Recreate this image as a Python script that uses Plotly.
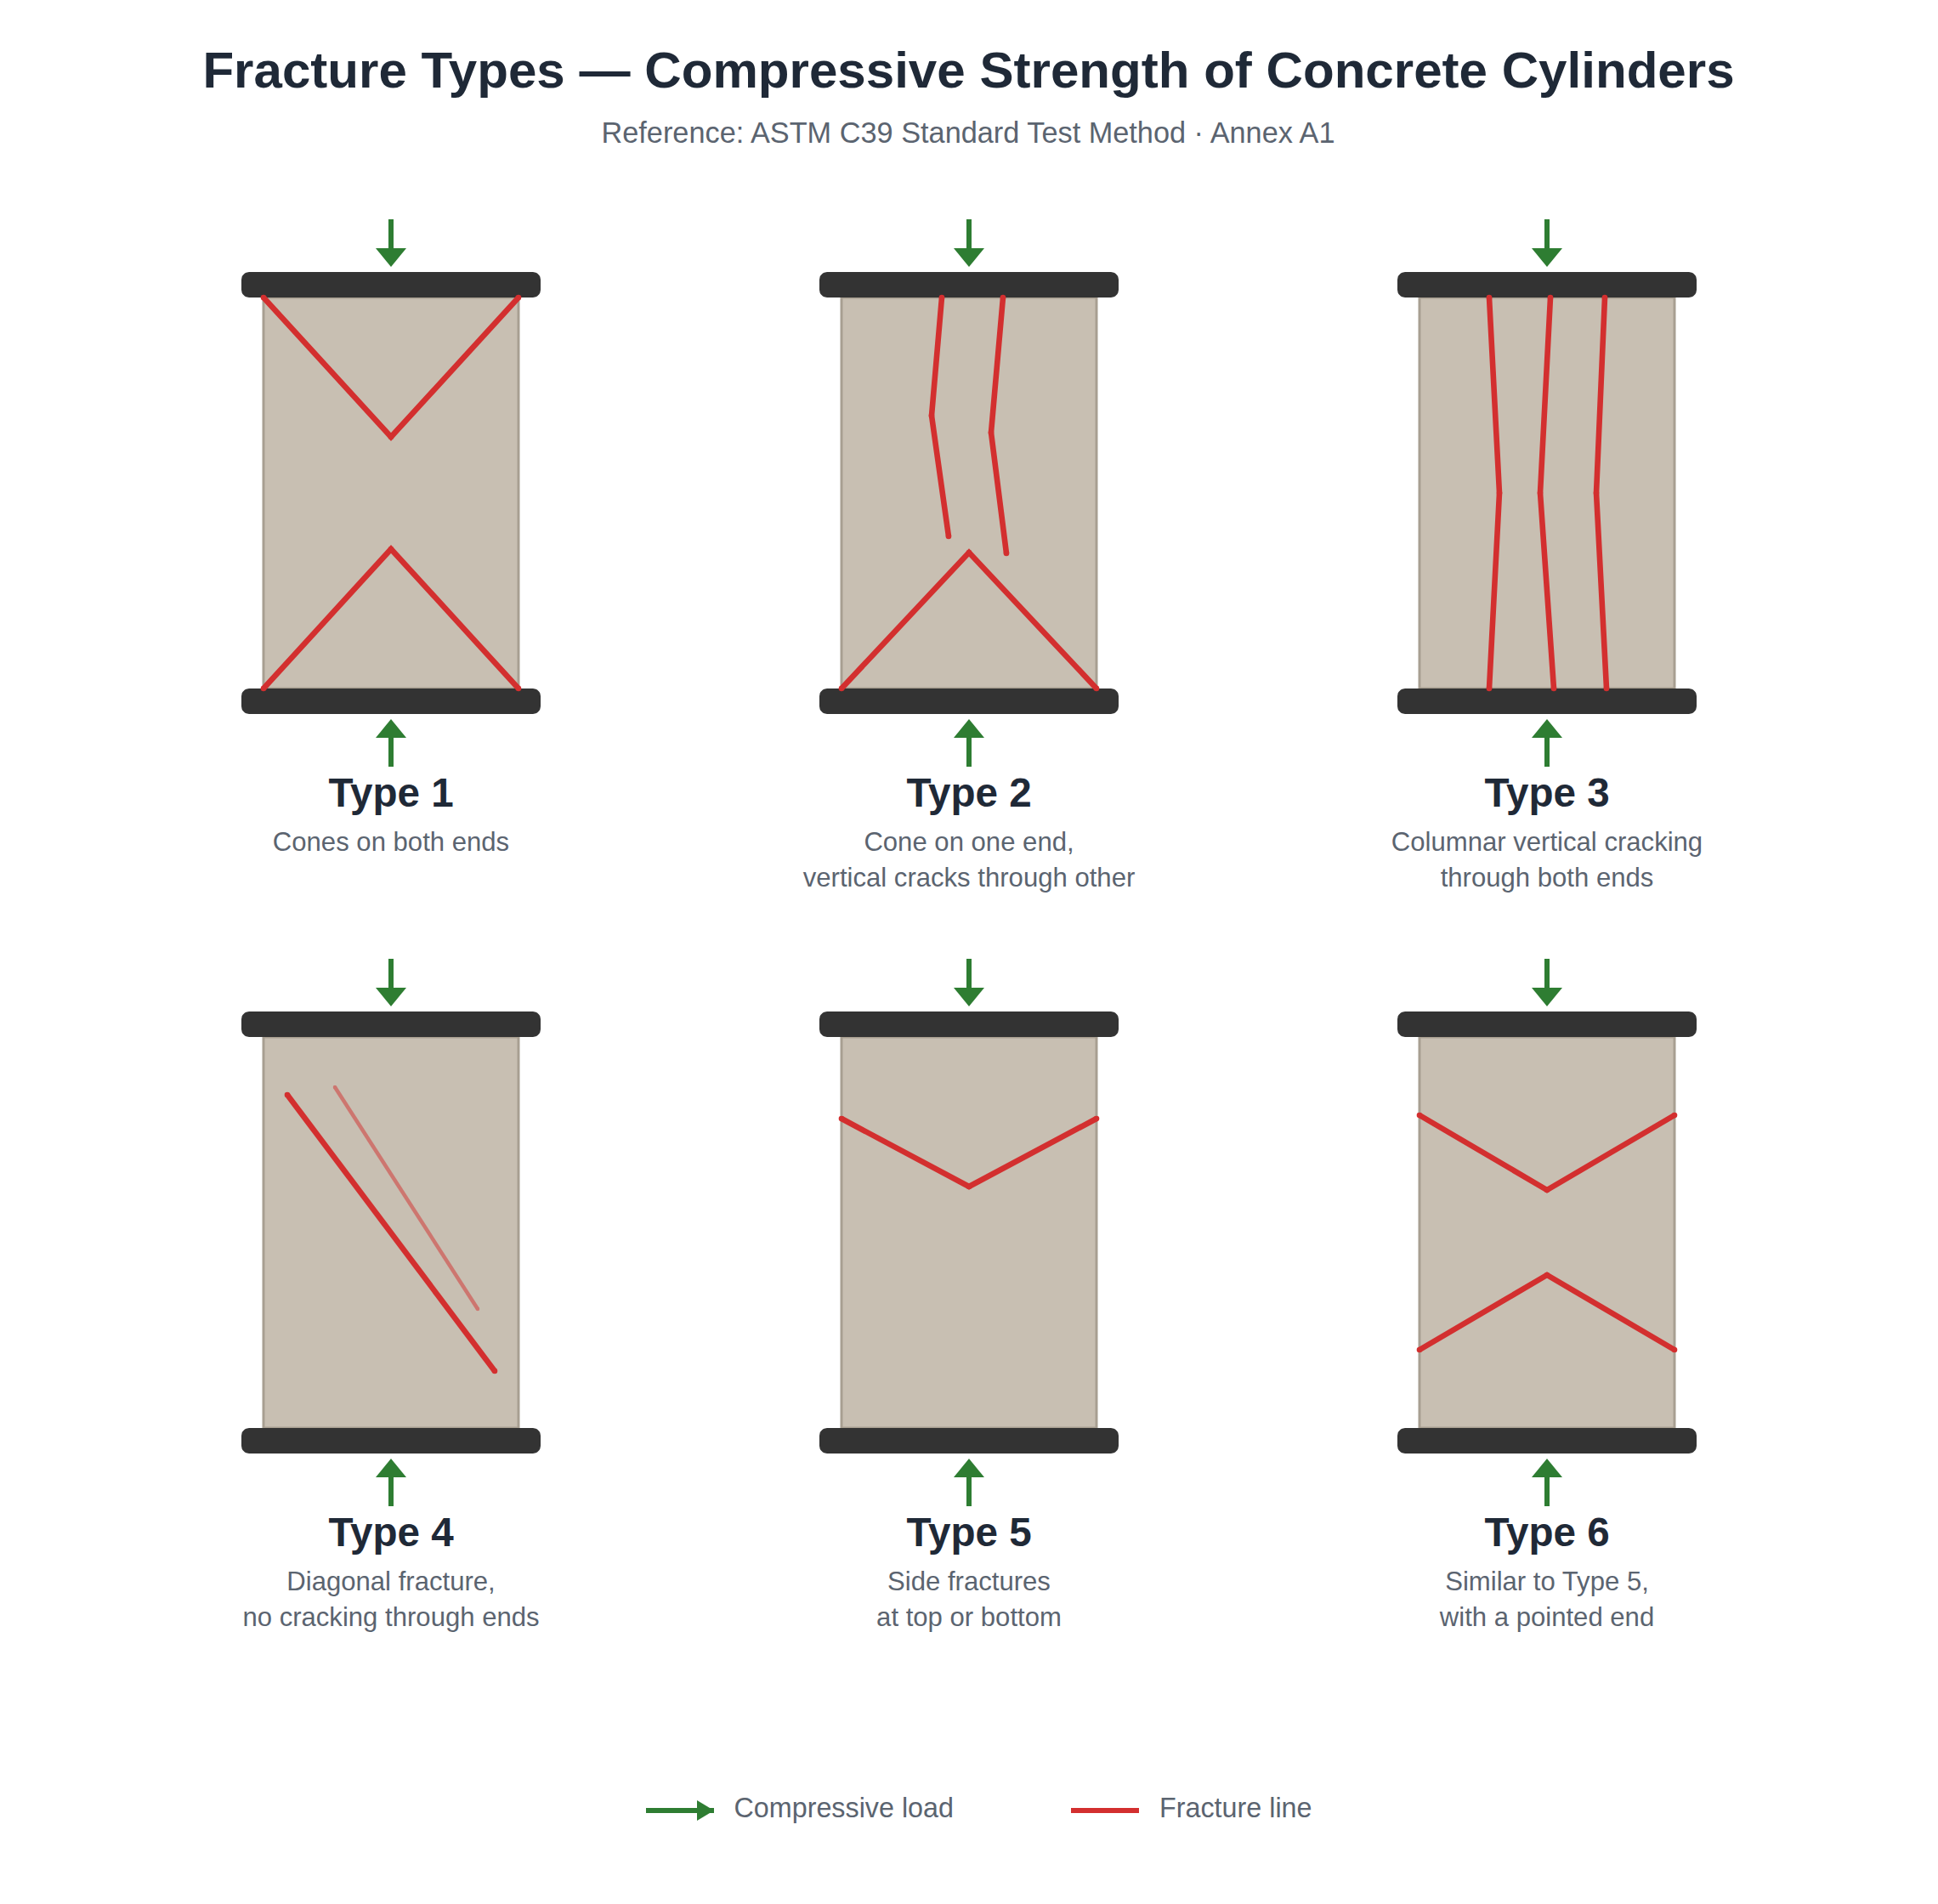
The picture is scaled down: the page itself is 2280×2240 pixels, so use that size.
import plotly.graph_objects as go
import math

TITLE = "Fracture Types — Compressive Strength of Concrete Cylinders"
SUBTITLE = "Reference: ASTM C39 Standard Test Method · Annex A1"
TYPE_LABELS = ["Type 1", "Type 2", "Type 3", "Type 4", "Type 5", "Type 6"]
TYPE_NOTES = [
    ["Cones on both ends"],
    ["Cone on one end,", "vertical cracks through other"],
    ["Columnar vertical cracking", "through both ends"],
    ["Diagonal fracture,", "no cracking through ends"],
    ["Side fractures", "at top or bottom"],
    ["Similar to Type 5,", "with a pointed end"],
]
LEGEND_LABELS = ["Compressive load", "Fracture line"]

# fracture polylines: offset from cylinder axis, depth below cylinder top
T1_X = [[-150, 0, 150], [-150, 0, 150]]
T1_Y = [[0, 164, 0], [460, 296, 460]]
T2_X = [[-32, -44, -24], [40, 26, 44], [-150, 0, 150]]
T2_Y = [[0, 139, 281], [0, 159, 301], [460, 300, 460]]
T3_X = [[-68, -56, -68], [4, -8, 8], [68, 58, 70]]
T3_Y = [[0, 230, 460], [0, 230, 460], [0, 230, 460]]
T4_X = [[-122, 122]]
T4_Y = [[68, 393]]
T4_FAINT_X = [-66, 102]
T4_FAINT_Y = [59, 320]
T5_X = [[-150, 0, 150]]
T5_Y = [[96, 176, 96]]
T6_X = [[-150, 0, 150], [-150, 0, 150]]
T6_Y = [[92, 180, 92], [368, 280, 368]]
CRACKS_X = [T1_X, T2_X, T3_X, T4_X, T5_X, T6_X]
CRACKS_Y = [T1_Y, T2_Y, T3_Y, T4_Y, T5_Y, T6_Y]

COL_CENTERS = [460, 1140, 1820]
ROW_TOPS = [350, 1220]

FONT = "Liberation Sans"
INK = "#1f2937"
MUTED = "#5b6470"
RED = "#d32f2f"
GREEN = "#2e7d32"
DARK = "#333333"
BODY = "#c8bfb2"
EDGE = "#a89f91"

fig = go.Figure()


def poly(xs, ys, fill=None, line=None, width=0, opacity=1.0, dots=False):
    fig.add_trace(go.Scatter(
        x=xs, y=ys,
        mode="lines+markers" if dots else "lines",
        fill="toself" if fill else "none",
        fillcolor=fill,
        line=dict(color=line or fill or "rgba(0,0,0,0)", width=width),
        marker=dict(size=width, color=line, line=dict(width=0)) if dots else None,
        opacity=opacity, hoverinfo="skip", showlegend=False,
    ))


def label(x, y, text, size, color, bold=False, pos="middle center"):
    fig.add_trace(go.Scatter(
        x=[x], y=[y], mode="text", text=[f"<b>{text}</b>" if bold else text],
        textposition=pos,
        textfont=dict(family=FONT, size=size, color=color),
        hoverinfo="skip", showlegend=False,
    ))


def rounded(x0, y0, x1, y1, r):
    xs, ys = [], []
    corners = [(x1 - r, y0 + r, -90), (x1 - r, y1 - r, 0), (x0 + r, y1 - r, 90), (x0 + r, y0 + r, 180)]
    for cx, cy, a in corners:
        for k in range(9):
            t = math.radians(a + k * 90 / 8)
            xs.append(cx + r * math.cos(t))
            ys.append(cy + r * math.sin(t))
    xs.append(xs[0])
    ys.append(ys[0])
    return xs, ys


def arrow_v(cx, start, base, tip):
    poly([cx, cx], [start, base], line=GREEN, width=6)
    poly([cx - 18, cx + 18, cx, cx - 18], [base, base, tip, base], fill=GREEN)


for i in range(6):
    cx = COL_CENTERS[i % 3]
    top = ROW_TOPS[i // 3]
    poly([cx - 150, cx + 150, cx + 150, cx - 150, cx - 150],
         [top, top, top + 460, top + 460, top], fill=BODY, line=EDGE, width=3)
    xs, ys = rounded(cx - 176, top - 30, cx + 176, top, 9)
    poly(xs, ys, fill=DARK)
    xs, ys = rounded(cx - 176, top + 460, cx + 176, top + 490, 9)
    poly(xs, ys, fill=DARK)
    for cu, cv in zip(CRACKS_X[i], CRACKS_Y[i]):
        poly([cx + u for u in cu], [top + v for v in cv], line=RED, width=6.6, dots=True)
    if i == 3:
        poly([cx + u for u in T4_FAINT_X], [top + v for v in T4_FAINT_Y],
             line=RED, width=4.5, opacity=0.5, dots=True)
    arrow_v(cx, top - 92, top - 58, top - 36)
    arrow_v(cx, top + 552, top + 518, top + 496)
    label(cx, top + 587, TYPE_LABELS[i], 47.6, INK, bold=True)
    for j, note in enumerate(TYPE_NOTES[i]):
        label(cx, top + 643 + j * 42, note, 31.1, MUTED)

label(1139.5, 88, TITLE, 60.1, INK, bold=True)
label(1139, 159, SUBTITLE, 34.3, MUTED)

poly([760, 840], [2130, 2130], line=GREEN, width=6)
poly([820, 840, 820, 820], [2118, 2130, 2142, 2118], fill=GREEN)
poly([1260, 1340], [2130, 2130], line=RED, width=6)
label(863.5, 2130, LEGEND_LABELS[0], 32.3, MUTED, pos="middle right")
label(1364, 2130, LEGEND_LABELS[1], 32.3, MUTED, pos="middle right")

fig.update_layout(
    width=2280, height=2240,
    margin=dict(l=0, r=0, t=0, b=0),
    paper_bgcolor="white", plot_bgcolor="white",
    xaxis=dict(range=[0, 2280], visible=False, fixedrange=True),
    yaxis=dict(range=[2240, 0], visible=False, fixedrange=True),
    showlegend=False,
)
fig.write_html("out.html", config={"displayModeBar": False},
               post_script="document.body.style.margin='0';")
